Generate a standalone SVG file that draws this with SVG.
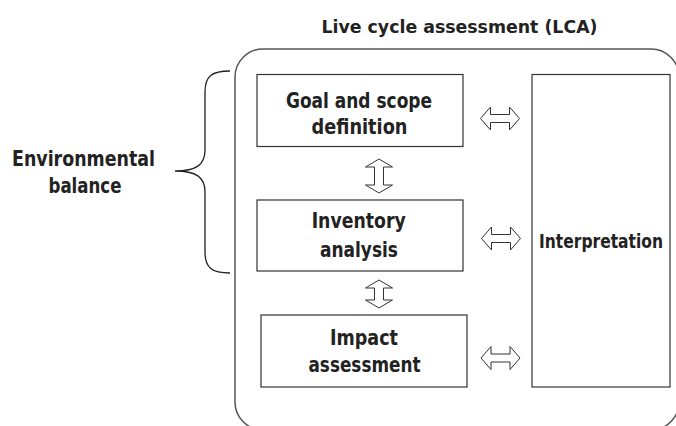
<svg xmlns="http://www.w3.org/2000/svg" width="676" height="426" viewBox="0 0 676 426">
<style>
  .box { fill: #fff; stroke: #333; stroke-width: 1.2; }
  .frame { fill: none; stroke: #555; stroke-width: 1.5; }
  .arrow { fill: #fff; stroke: #333; stroke-width: 1; stroke-linejoin: miter; }
  .brace { fill: none; stroke: #222; stroke-width: 1.3; }
  text { font-family: "DejaVu Sans Condensed", "DejaVu Sans", sans-serif; font-stretch: condensed; font-weight: bold; font-size: 20.5px; fill: #222; text-anchor: middle; }
  .title { font-size: 18.5px; }
  .interp { font-size: 19.5px; }
</style>
<defs>
  <path id="harrow" d="M-19.5,0 L-9.5,-11.5 L-9.5,-4 L9.5,-4 L9.5,-11.5 L19.5,0 L9.5,11.5 L9.5,4 L-9.5,4 L-9.5,11.5 Z"/>
</defs>
<rect width="676" height="426" fill="#fff"/>

<g id="lca-frame">
  <rect class="frame" x="235" y="49" width="444" height="381" rx="28" ry="28"/>
  <text class="title" x="459.5" y="33" textLength="276" lengthAdjust="spacingAndGlyphs">Live cycle assessment (LCA)</text>
</g>

<g id="environmental-balance">
  <path class="brace" d="M230,71 C212,71 205,76 205,92 L205,150 C205,165 196,171 175,171 C196,171 205,177 205,192 L205,252 C205,268 212,273 230,273"/>
  <text x="83.5" y="166" textLength="143" lengthAdjust="spacingAndGlyphs">Environmental</text>
  <text x="85" y="193" textLength="73" lengthAdjust="spacingAndGlyphs">balance</text>
</g>

<g id="goal-scope">
  <rect class="box" x="257" y="74.5" width="206" height="72"/>
  <text x="359" y="108" textLength="146" lengthAdjust="spacingAndGlyphs">Goal and scope</text>
  <text x="359.5" y="134" textLength="96" lengthAdjust="spacingAndGlyphs">definition</text>
</g>

<g id="inventory">
  <rect class="box" x="257" y="200" width="206" height="71"/>
  <text x="358.7" y="228" textLength="94" lengthAdjust="spacingAndGlyphs">Inventory</text>
  <text x="359" y="256.5" textLength="78" lengthAdjust="spacingAndGlyphs">analysis</text>
</g>

<g id="impact">
  <rect class="box" x="261" y="315" width="206" height="72"/>
  <text x="364" y="345" textLength="68" lengthAdjust="spacingAndGlyphs">Impact</text>
  <text x="364.5" y="371.5" textLength="112" lengthAdjust="spacingAndGlyphs">assessment</text>
</g>

<g id="interpretation">
  <rect class="box" x="532" y="74.5" width="138" height="312.5"/>
  <text class="interp" x="601" y="247.5" textLength="124" lengthAdjust="spacingAndGlyphs">Interpretation</text>
</g>

<g id="connectors">
  <use href="#harrow" class="arrow" transform="translate(500,118.5)"/>
  <use href="#harrow" class="arrow" transform="translate(501,238.5)"/>
  <use href="#harrow" class="arrow" transform="translate(500.5,358)"/>
  <path class="arrow" d="M379,159 L392.5,167 L383.5,167 L383.5,185 L392.5,185 L379,193 L365.5,185 L374.5,185 L374.5,167 L365.5,167 Z"/>
  <path class="arrow" d="M379,280 L392.5,288 L383.5,288 L383.5,300 L392.5,300 L379,308 L365.5,300 L374.5,300 L374.5,288 L365.5,288 Z"/>
</g>
</svg>
